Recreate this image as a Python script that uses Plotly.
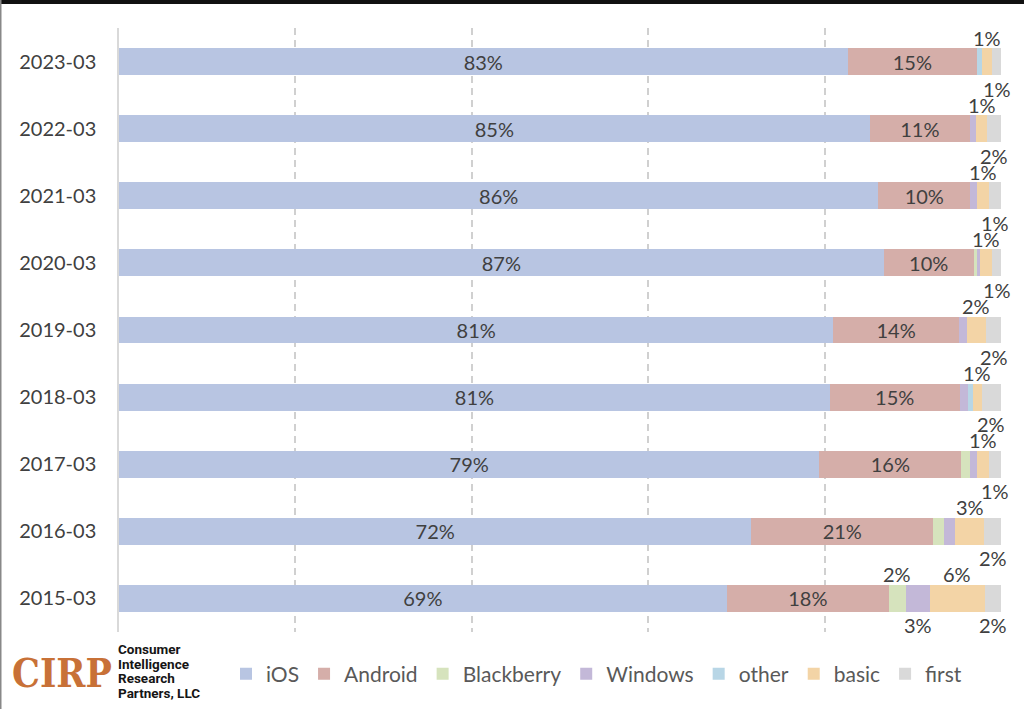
import plotly.graph_objects as go

categories = ["2023-03", "2022-03", "2021-03", "2020-03", "2019-03",
              "2018-03", "2017-03", "2016-03", "2015-03"]
ios        = [82.6, 85.1, 86.1, 86.7, 81.0, 80.6, 79.4, 71.7, 68.9]
android    = [14.7, 11.4, 10.4, 10.2, 14.2, 14.7, 16.1, 20.6, 18.4]
blackberry = [0.0, 0.0, 0.0, 0.4, 0.0, 0.0, 1.0, 1.2, 1.9]
windows    = [0.0, 0.7, 0.8, 0.3, 0.9, 1.0, 0.8, 1.3, 2.7]
other      = [0.5, 0.0, 0.0, 0.0, 0.0, 0.5, 0.0, 0.0, 0.0]
basic      = [1.2, 1.2, 1.3, 1.4, 2.2, 1.0, 1.3, 3.3, 6.3]
first      = [1.0, 1.6, 1.4, 1.0, 1.7, 2.2, 1.4, 1.9, 1.8]

series_names = ["iOS", "Android", "Blackberry", "Windows", "other", "basic", "first"]
series_vals = [ios, android, blackberry, windows, other, basic, first]
colors = ["#b8c5e2", "#d5aea9", "#d6e3bd", "#c3b8d8", "#b8d6e6", "#f3d4a6", "#d9d9d9"]
inside_labelled = ["iOS", "Android"]
labels_above = {"Blackberry": ["2015-03"], "basic": categories}
labels_below = {"Windows": ["2015-03"], "first": categories}

FONT = "Lato"
TXT = "#404040"
W, H = 1024, 709
ML, MR, MT, MB = 119, 23, 28, 77
PH = H - MT - MB
PW = W - ML - MR

fig = go.Figure()
for name, vals, col in zip(series_names, series_vals, colors):
    show_text = name in inside_labelled
    fig.add_trace(go.Bar(
        y=categories, x=vals, name=name, orientation="h",
        marker=dict(color=col, line=dict(width=0)),
        text=[f"{round(v)}%" for v in vals] if show_text else None,
        textposition="inside" if show_text else "none",
        insidetextanchor="middle",
        constraintext="none",
        textfont=dict(family=FONT, size=20, color=TXT),
        hoverinfo="x+name",
    ))

annotations = []
for i, cat in enumerate(categories):
    cum = 0.0
    for name, vals in zip(series_names, series_vals):
        v = vals[i]
        mid = cum + v / 2
        if cat in labels_above.get(name, []):
            annotations.append(dict(x=mid, y=cat, xref="x", yref="y", text=f"{round(v)}%",
                                    showarrow=False, yshift=24,
                                    font=dict(family=FONT, size=20, color=TXT)))
        if cat in labels_below.get(name, []):
            annotations.append(dict(x=mid, y=cat, xref="x", yref="y", text=f"{round(v)}%",
                                    showarrow=False, yshift=-27,
                                    font=dict(family=FONT, size=20, color=TXT)))
        cum += v

def px_x(px):
    return (px - ML) / PW

def px_y(py):
    return (H - MB - py) / PH

# logo
annotations.append(dict(x=px_x(10), y=px_y(673), xref="paper", yref="paper",
                        xanchor="left", yanchor="middle", showarrow=False,
                        text="<b>CIRP</b>",
                        font=dict(family="DejaVu Serif Condensed, DejaVu Serif", size=39,
                                  color="#c87137")))
logo_lines = ["Consumer", "Intelligence", "Research", "Partners, LLC"]
for k, line in enumerate(logo_lines):
    annotations.append(dict(x=px_x(116), y=px_y(649 + 14.7 * k), xref="paper", yref="paper",
                            xanchor="left", yanchor="middle", showarrow=False,
                            text=f"<b>{line}</b>",
                            font=dict(family="Roboto", size=13.5, color="#151515")))

shapes = [
    dict(type="rect", xref="paper", yref="paper", x0=px_x(-5), x1=px_x(W + 5),
         y0=px_y(4), y1=px_y(-5), fillcolor="#111111", line=dict(width=0), layer="above"),
    dict(type="line", xref="paper", yref="paper", x0=px_x(0.75), x1=px_x(0.75),
         y0=px_y(0), y1=px_y(H), line=dict(color="#888888", width=1.5), layer="above"),
]

fig.update_layout(
    width=W, height=H,
    margin=dict(l=ML, r=MR, t=MT, b=MB, pad=0),
    barmode="stack", bargap=0.6,
    plot_bgcolor="white", paper_bgcolor="white",
    font=dict(family=FONT, size=20, color=TXT),
    showlegend=True,
    legend=dict(orientation="h", x=px_x(226), xanchor="left", y=px_y(674), yanchor="middle",
                font=dict(family=FONT, size=21, color="#595959"),
                bgcolor="rgba(0,0,0,0)", traceorder="normal"),
    xaxis=dict(range=[0, 100], showticklabels=False, ticks="",
               showgrid=True, gridcolor="#d0d0d0", gridwidth=1.5, griddash="7px,5px",
               tickvals=[20, 40, 60, 80, 100], zeroline=False, showline=False, fixedrange=True),
    yaxis=dict(type="category", range=[len(categories) - 0.5, -0.5], autorange=False,
               showgrid=False, showline=True, linecolor="#d9d9d9", linewidth=1.5,
               ticks="", ticklabelstandoff=17,
               tickfont=dict(family=FONT, size=20, color=TXT), fixedrange=True),
    annotations=annotations,
    shapes=shapes,
    uniformtext=dict(mode=False),
)

fig.write_html("out.html")
